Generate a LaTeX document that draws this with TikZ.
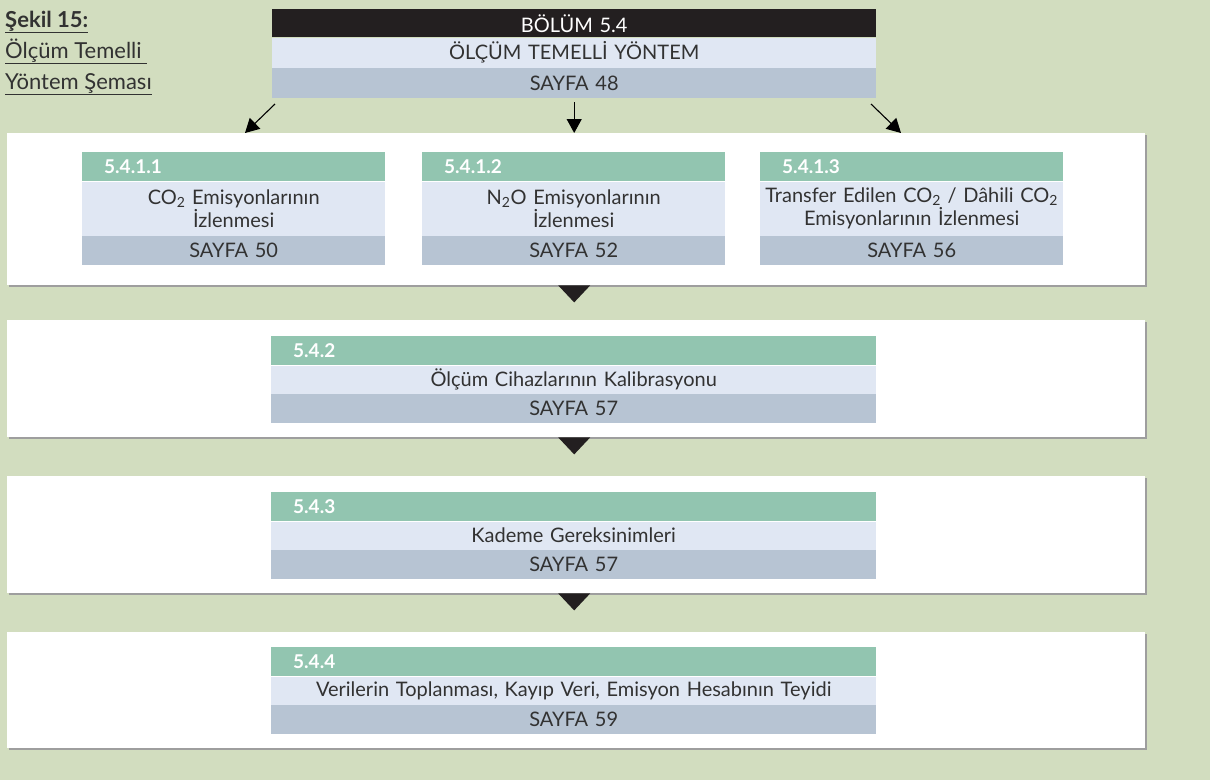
\documentclass[tikz,border=0pt]{standalone}
\usepackage{fontspec}
\setmainfont{Lato}
\usetikzlibrary{arrows.meta,shadows}
\definecolor{bggreen}{RGB}{210,221,191}
\definecolor{hdrgreen}{RGB}{146,197,176}
\definecolor{rowlight}{RGB}{224,231,243}
\definecolor{rowgray}{RGB}{183,196,211}
\definecolor{hdrblack}{RGB}{35,31,32}
\definecolor{txtgray}{RGB}{50,50,50}

\begin{document}
\begin{tikzpicture}[x=1pt,y=-1pt,
    every node/.style={font=\fontsize{20}{23}\selectfont, text=txtgray, inner sep=0pt, anchor=north west},
    panel/.style={fill=white, minimum width=1138pt, drop shadow={shadow xshift=2pt, shadow yshift=-2pt, fill=black!38, opacity=1}},
    numhdr/.style={fill=hdrgreen, text=white, font=\fontsize{19}{22}\selectfont\bfseries, minimum height=29pt, inner xsep=22pt, align=left},
    lightrow/.style={fill=rowlight, align=center},
    pagerow/.style={fill=rowgray, align=center, minimum height=29pt},
    caption/.style={anchor=base west, font=\fontsize{22}{25}\selectfont},
    arr/.style={line width=1.1pt, -{Triangle[length=14pt,width=15pt]}},
    tri/.style={fill=hdrblack}]

  \fill[bggreen] (0,0) rectangle (1210,780);

  % caption
  \node[caption, font=\fontsize{22}{25}\selectfont\bfseries] (cap1) at (5,27) {\underline{Şekil 15:}};
  \node[caption] (cap2) at (5,58) {\underline{Ölçüm Temelli\ }};
  \node[caption] (cap3) at (5,89) {\underline{Yöntem Şeması}};

  % chapter box
  \node[fill=hdrblack, text=white, minimum height=28pt, text width=604pt, align=center] (top) at (272,9) {BÖLÜM 5.4};
  \node[lightrow, minimum height=30pt, text width=604pt] (topname) at (top.south west) {ÖLÇÜM TEMELLİ YÖNTEM};
  \node[pagerow, minimum height=30pt, text width=604pt] (toppage) at (topname.south west) {SAYFA 48};

  % panels
  \node[panel, minimum height=152pt] (p1) at (7,133) {};
  \node[panel, minimum height=117pt] (p2) at (7,320) {};
  \node[panel, minimum height=117pt] (p3) at (7,476) {};
  \node[panel, minimum height=116pt] (p4) at (7,632) {};

  % arrows from the chapter box
  \coordinate (l-start) at (275,104);
  \coordinate (l-end) at (245,133);
  \coordinate (r-start) at (871,104);
  \coordinate (r-end) at (901,133);
  \draw[arr] (l-start) -- (l-end);
  \draw[arr] ([yshift=-4pt]toppage.south) -- (toppage.south |- p1.north);
  \draw[arr] (r-start) -- (r-end);

  % 5.4.1.x
  \node[numhdr, text width=259pt] (b1h) at (82,152) {5.4.1.1};
  \node[lightrow, minimum height=54pt, text width=303pt] (b1n) at (b1h.south west) {CO\textsubscript{2} Emisyonlarının\\İzlenmesi};
  \node[pagerow, text width=303pt] (b1p) at (b1n.south west) {SAYFA 50};

  \node[numhdr, text width=259pt] (b2h) at (422,152) {5.4.1.2};
  \node[lightrow, minimum height=54pt, text width=303pt] (b2n) at (b2h.south west) {N\textsubscript{2}O Emisyonlarının\\İzlenmesi};
  \node[pagerow, text width=303pt] (b2p) at (b2n.south west) {SAYFA 52};

  \node[numhdr, text width=259pt] (b3h) at (760,152) {5.4.1.3};
  \node[lightrow, minimum height=54pt, text width=303pt] (b3n) at (b3h.south west) {Transfer Edilen CO\textsubscript{2} / Dâhili CO\textsubscript{2}\\Emisyonlarının İzlenmesi};
  \node[pagerow, text width=303pt] (b3p) at (b3n.south west) {SAYFA 56};

  % 5.4.2
  \node[numhdr, text width=561pt] (c2h) at (271,336) {5.4.2};
  \node[lightrow, minimum height=28pt, text width=605pt] (c2n) at (c2h.south west) {Ölçüm Cihazlarının Kalibrasyonu};
  \node[pagerow, text width=605pt] (c2p) at (c2n.south west) {SAYFA 57};

  % 5.4.3
  \node[numhdr, text width=561pt] (c3h) at (271,492) {5.4.3};
  \node[lightrow, minimum height=28pt, text width=605pt] (c3n) at (c3h.south west) {Kademe Gereksinimleri};
  \node[pagerow, text width=605pt] (c3p) at (c3n.south west) {SAYFA 57};

  % 5.4.4
  \node[numhdr, text width=561pt] (c4h) at (271,647) {5.4.4};
  \node[lightrow, minimum height=28pt, text width=605pt] (c4n) at (c4h.south west) {Verilerin Toplanması, Kayıp Veri, Emisyon Hesabının Teyidi};
  \node[pagerow, text width=605pt] (c4p) at (c4n.south west) {SAYFA 59};

  % triangles between panels
  \fill[tri] (toppage.south |- p1.south) ++(-16,0) -- ++(32,0) -- ++(-16,17) -- cycle;
  \fill[tri] (toppage.south |- p2.south) ++(-16,0) -- ++(32,0) -- ++(-16,17) -- cycle;
  \fill[tri] (toppage.south |- p3.south) ++(-16,0) -- ++(32,0) -- ++(-16,17) -- cycle;
\end{tikzpicture}
\end{document}
